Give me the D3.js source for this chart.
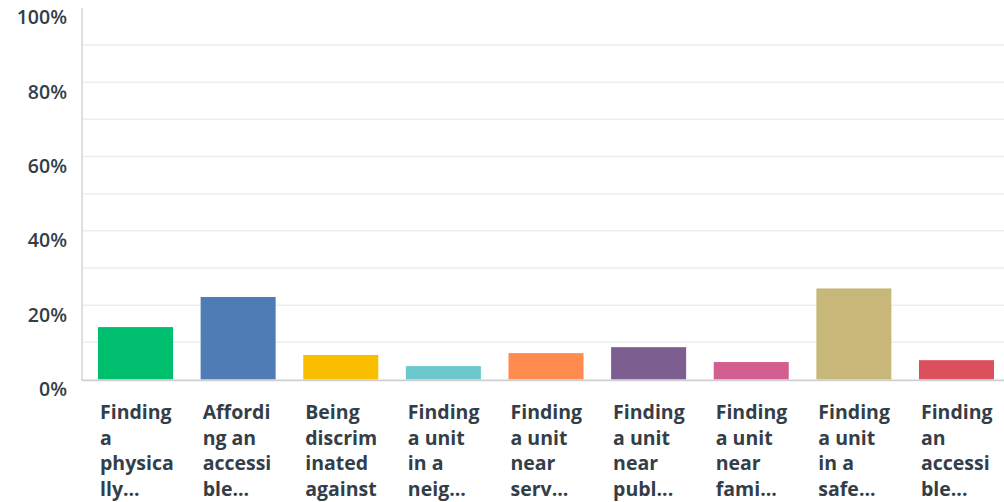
<!DOCTYPE html>
<html><head><meta charset="utf-8">
<script src="https://cdn.jsdelivr.net/npm/d3@7"></script>
<style>
html,body{margin:0;padding:0;background:#fff;}
svg{display:block;}
text{font-family:"Open Sans",sans-serif;fill:#333e48;}
</style></head>
<body>
<svg id="chart" width="1004" height="502"></svg>
<script>
const labelLines = [
  ["Finding","a","physica","lly..."],
  ["Affordi","ng an","accessi","ble..."],
  ["Being","discrim","inated","against"],
  ["Finding","a unit","in a","neig..."],
  ["Finding","a unit","near","serv..."],
  ["Finding","a unit","near","publ..."],
  ["Finding","a unit","near","fami..."],
  ["Finding","a unit","in a","safe..."],
  ["Finding","an","accessi","ble..."]
];
const categories = ["c1","c2","c3","c4","c5","c6","c7","c8","c9"];
const values = [14.1, 22.2, 6.6, 3.6, 7.1, 8.7, 4.7, 24.5, 5.2];
const colors = ["#00bf6f","#507cb6","#f9be00","#6bc8cd","#ff8b4f","#7d5e90","#d25f90","#c7b879","#dc4f5d"];
const tickValues = [0,20,40,60,80,100];
const gridValues = [10,20,30,40,50,60,70,80,90];

const svg = d3.select("#chart");
const x = d3.scaleBand().domain(categories).range([82,1010]).paddingInner(0.269).paddingOuter(0.156);
const y = d3.scaleLinear().domain([0,100]).range([379.5,7.8]);

svg.append("g").selectAll("line").data(gridValues).join("line")
  .attr("x1",83).attr("x2",1004)
  .attr("y1",d=>y(d)).attr("y2",d=>y(d))
  .attr("stroke","#ededed").attr("stroke-width",1.5);

svg.append("g").selectAll("rect").data(values).join("rect")
  .attr("x",(d,i)=>x(categories[i]))
  .attr("width",x.bandwidth())
  .attr("y",d=>y(d))
  .attr("height",d=>y(0)-y(d))
  .attr("fill",(d,i)=>colors[i]);

svg.append("line").attr("x1",82).attr("x2",82).attr("y1",8).attr("y2",380.5)
  .attr("stroke","#d6d6d6").attr("stroke-width",1.5);
svg.append("line").attr("x1",82).attr("x2",1004).attr("y1",380.3).attr("y2",380.3)
  .attr("stroke","#cfcfcf").attr("stroke-width",1.8);

svg.append("g").selectAll("text").data(tickValues).join("text")
  .attr("x",67).attr("y",d=>y(d)+16.5)
  .attr("text-anchor","end")
  .style("font-size","19.5px").style("font-weight","600")
  .text(d=>d+"%");

const lg = svg.append("g").selectAll("text").data(labelLines).join("text")
  .attr("x",(d,i)=>x(categories[i])+2)
  .attr("y",419)
  .style("font-size","19.5px").style("font-weight","700");
lg.selectAll("tspan").data(d=>d).join("tspan")
  .attr("x",function(){return d3.select(this.parentNode).attr("x");})
  .attr("dy",(d,i)=>i===0?0:25.6)
  .text(d=>d);
</script>
</body></html>
